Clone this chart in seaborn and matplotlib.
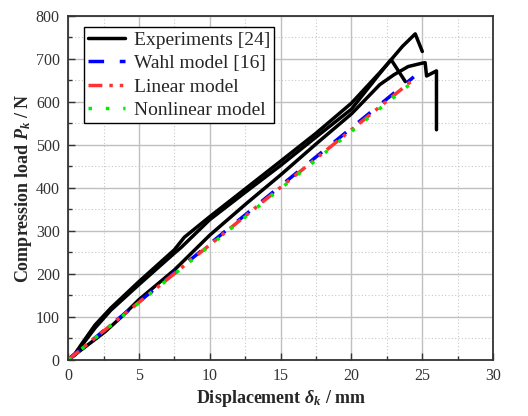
import numpy as np
import pandas as pd
import matplotlib
matplotlib.use("Agg")
import matplotlib.pyplot as plt
from matplotlib.ticker import MultipleLocator
import seaborn as sns

exp1_x = [0, 0.5, 1.0, 1.9, 3.0, 5.0, 7.5, 8.2, 10.0, 12.6, 15.0, 17.5, 20.0, 22.0, 22.8, 23.6, 24.5, 25.0]
exp1_y = [0, 15, 39, 81, 120, 182, 256, 285, 333, 400, 462, 527, 597, 668, 698, 729, 758, 717]
exp2_x = [0, 0.5, 1.0, 1.9, 3.0, 5.0, 7.5, 8.0, 10.0, 12.6, 15.0, 17.5, 20.0, 22.0, 22.8, 23.8]
exp2_y = [0, 12, 35, 74, 115, 175, 248, 262, 326, 392, 452, 518, 583, 666, 698, 647]
exp3_x = [0, 1.0, 2.6, 3.8, 5.0, 7.5, 10.0, 12.6, 15.0, 17.5, 20.0, 22.0, 23.0, 24.0, 25.0, 25.2, 25.3, 26.0, 26.0]
exp3_y = [0, 25, 65, 101, 140, 209, 290, 364, 430, 502, 572, 640, 663, 682, 690, 691, 660, 672, 535]

# Model predictions
wahl_x = [0, 24.4]
wahl_y = [0, 658]
lin_x = [0, 24.3]
lin_y = [0, 650]
nonlin_x = [0, 24.4]
nonlin_y = [0, 648]

sns.set_style("white")
plt.rcParams["font.family"] = ["Liberation Serif", "DejaVu Serif"]
plt.rcParams["mathtext.fontset"] = "custom"
plt.rcParams["mathtext.rm"] = "Liberation Serif"
plt.rcParams["mathtext.it"] = "Liberation Serif:italic"
plt.rcParams["mathtext.bf"] = "Liberation Serif:bold"
plt.rcParams["mathtext.bfit"] = "Liberation Serif:bold:italic"

fig, ax = plt.subplots(figsize=(5.28, 4.16), dpi=100)
fig.subplots_adjust(left=0.129, right=0.934, bottom=0.135, top=0.962)

for i, (xs, ys) in enumerate([(exp1_x, exp1_y), (exp2_x, exp2_y), (exp3_x, exp3_y)]):
    sns.lineplot(x=xs, y=ys, ax=ax, color="black", linewidth=2.5, sort=False,
                 estimator=None, label="Experiments [24]" if i == 0 else None)

sns.lineplot(x=wahl_x, y=wahl_y, ax=ax, color="#0000ff", linewidth=2.5, sort=False,
             estimator=None, label="Wahl model [16]")
ax.lines[-1].set_dashes((4.5, 4.5))
sns.lineplot(x=lin_x, y=lin_y, ax=ax, color="#ff3333", linewidth=2.5, sort=False,
             estimator=None, label="Linear model")
ax.lines[-1].set_dashes((4, 2, 1, 2, 1, 2))
sns.lineplot(x=nonlin_x, y=nonlin_y, ax=ax, color="#00ee00", linewidth=2.5, sort=False,
             estimator=None, label="Nonlinear model")
ax.lines[-1].set_dashes((1, 4))

ax.set_xlim(0, 30)
ax.set_ylim(0, 800)
ax.xaxis.set_major_locator(MultipleLocator(5))
ax.xaxis.set_minor_locator(MultipleLocator(2.5))
ax.yaxis.set_major_locator(MultipleLocator(100))
ax.yaxis.set_minor_locator(MultipleLocator(50))
ax.grid(which="major", color="#c0c0c0", linewidth=1.0, linestyle="-")
ax.grid(which="minor", color="#c8c8c8", linewidth=0.8, linestyle=(0, (1, 2)))
ax.set_axisbelow(True)
ax.tick_params(which="both", direction="in", left=True, bottom=True, top=False, right=False,
               labelsize=11.5, colors="#333333", pad=6)
ax.tick_params(which="major", length=5, width=1)
ax.tick_params(which="minor", length=3, width=1)
for s in ax.spines.values():
    s.set_color("#333333")
    s.set_linewidth(1.3)

ax.set_xlabel(r"Displacement $\mathbfit{\delta}_{\mathbfit{k}}$ / mm", fontsize=13, fontweight="bold", labelpad=3)
ax.set_ylabel(r"Compression load $\mathbfit{P}_{\mathbfit{k}}$ / N", fontsize=13, fontweight="bold", labelpad=1)

leg = ax.legend(loc="upper left", bbox_to_anchor=(0.038, 0.967), borderaxespad=0,
                fontsize=14, handlelength=1.9, labelspacing=0.3, borderpad=0.2,
                fancybox=False, framealpha=1, edgecolor="black", handletextpad=0.45)
leg.get_frame().set_linewidth(1.0)

fig.savefig("out.png", dpi=100)
